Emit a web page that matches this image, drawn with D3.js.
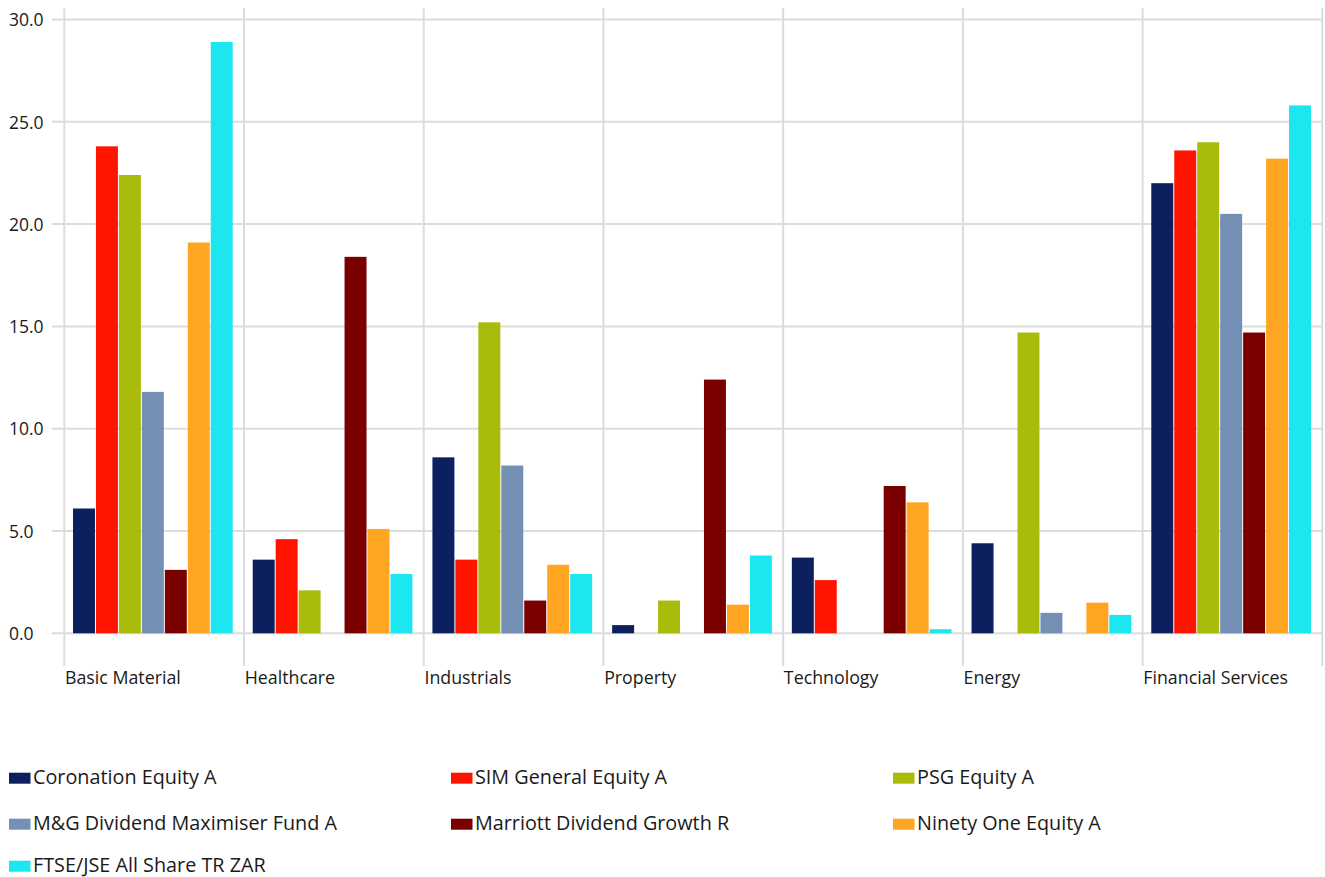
<!DOCTYPE html>
<html><head><meta charset="utf-8">
<script src="https://cdn.jsdelivr.net/npm/d3@7"></script>
<style>body{margin:0;background:#fff;} text{font-family:"Open Sans",sans-serif;fill:#1a1a1a;}</style>
</head><body><svg id="c" width="1325" height="877"></svg>
<script>
const categories = ["Basic Material","Healthcare","Industrials","Property","Technology","Energy","Financial Services"];
const seriesNames = ["Coronation Equity A","SIM General Equity A","PSG Equity A","M&G Dividend Maximiser Fund A","Marriott Dividend Growth R","Ninety One Equity A","FTSE/JSE All Share TR ZAR"];
const colors = ["#0c1f5e","#ff1400","#a9bb0b","#7590b5","#7a0000","#ffa522","#1ce6f0"];
const coronation = [6.1,3.6,8.6,0.4,3.7,4.4,22.0];
const sim        = [23.8,4.6,3.6,0,2.6,0,23.6];
const psg        = [22.4,2.1,15.2,1.6,0,14.7,24.0];
const mg         = [11.8,0,8.2,0,0,1.0,20.5];
const marriott   = [3.1,18.4,1.6,12.4,7.2,0,14.7];
const ninetyOne  = [19.1,5.1,3.35,1.4,6.4,1.5,23.2];
const ftse       = [28.9,2.9,2.9,3.8,0.2,0.9,25.8];
const yTicks = [0,5,10,15,20,25,30];
const seriesValues = [coronation,sim,psg,mg,marriott,ninetyOne,ftse];

const svg = d3.select("#c");
const L=64.3, R=1322.3, T=19.5, B=633.3;
const x0 = d3.scaleBand().domain(categories).range([L,R]).paddingInner(0).paddingOuter(0);
const x1 = d3.scaleBand().domain(d3.range(seriesNames.length)).range([8.7, x0.bandwidth()-10.3]).padding(0);
const y = d3.scaleLinear().domain([0,30]).range([B,T]);
const grid = "#dcdcdc";

// horizontal grid
svg.append("g").selectAll("line").data(yTicks).join("line")
  .attr("x1",52).attr("x2",R).attr("y1",d=>y(d)).attr("y2",d=>y(d))
  .attr("stroke",grid).attr("stroke-width",2);
// vertical grid
const vx = categories.map(c=>x0(c)).concat([R]);
svg.append("g").selectAll("line").data(vx).join("line")
  .attr("x1",d=>d).attr("x2",d=>d).attr("y1",8).attr("y2",666)
  .attr("stroke",grid).attr("stroke-width",2);

// y labels (left aligned)
const yAxis = d3.axisLeft(y).tickValues(yTicks).tickFormat(d3.format(".1f")).tickSize(0).tickPadding(0);
const ya = svg.append("g").attr("transform","translate(9,0)").call(yAxis);
ya.select(".domain").remove();
ya.selectAll("text").attr("text-anchor","start").attr("x",0).attr("dy",0).attr("y",6.2)
  .style("font-size","17.5px").attr("fill","#1a1a1a").style("font-family","'Open Sans',sans-serif");

// bars
categories.forEach((c,ci)=>{
  const g = svg.append("g").attr("transform",`translate(${x0(c)},0)`);
  g.selectAll("rect").data(seriesValues.map((s,si)=>({si,v:s[ci]})).filter(d=>d.v>0)).join("rect")
    .attr("x",d=>x1(d.si)).attr("width",x1.bandwidth()-1)
    .attr("y",d=>y(d.v)).attr("height",d=>y(0)-y(d.v))
    .attr("fill",d=>colors[d.si]);
});

// x labels
const xAxis = d3.axisBottom(x0).tickSize(0).tickPadding(0);
const xa = svg.append("g").call(xAxis);
xa.select(".domain").remove();
xa.selectAll(".tick").attr("transform",d=>`translate(${x0(d)+0.7},684)`);
xa.selectAll("text").attr("text-anchor","start").attr("y",0).attr("dy",0)
  .style("font-size","17.8px").attr("fill","#1a1a1a").style("font-family","'Open Sans',sans-serif");

// legend
const colX=[9,451,893], rowY=[784,830,872];
const lg = svg.append("g").selectAll("g").data(seriesNames).join("g")
  .attr("transform",(d,i)=>`translate(${colX[i%3]},${rowY[Math.floor(i/3)]})`);
lg.append("rect").attr("x",0).attr("y",-11.3).attr("width",21.5).attr("height",11).attr("fill",(d,i)=>colors[i]);
lg.append("text").attr("x",24).attr("y",0).text(d=>d).style("font-size","19.8px");
</script></body></html>
